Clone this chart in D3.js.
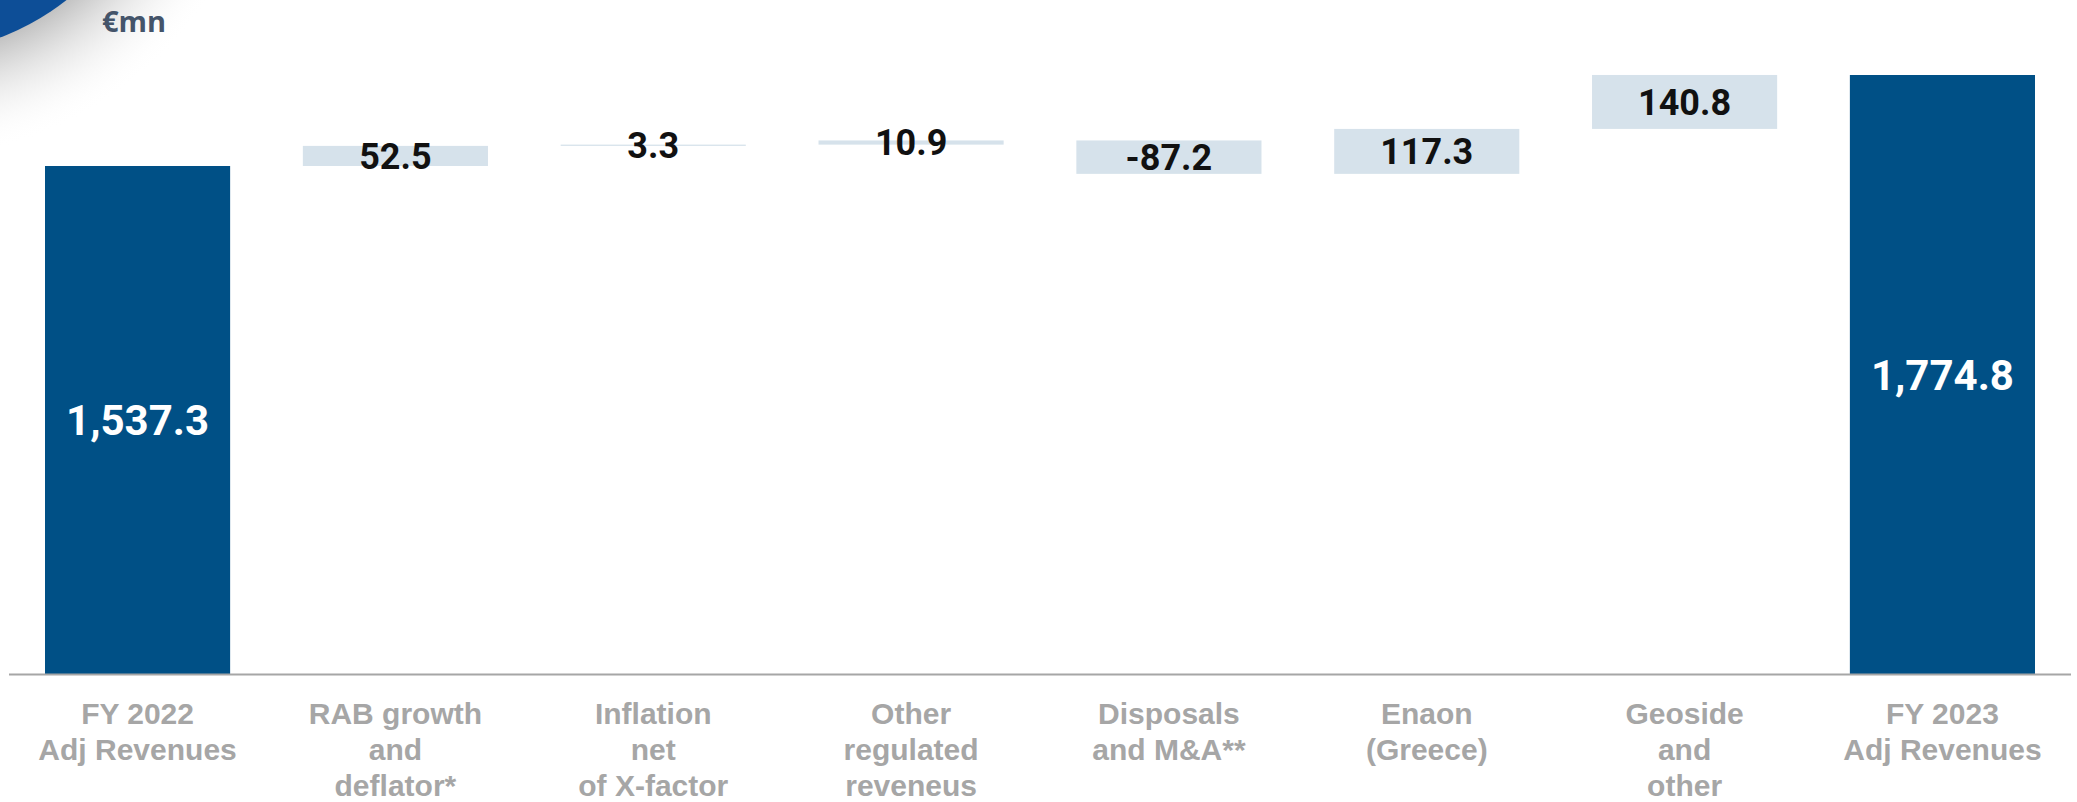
<!DOCTYPE html>
<html>
<head>
<meta charset="utf-8">
<script src="https://cdn.jsdelivr.net/npm/d3@7"></script>
<style>
  body { margin: 0; background: #ffffff; }
  svg { display: block; }
</style>
</head>
<body>
<div id="bridgeChart"></div>
<script>
// chart data
var categories = ["FY 2022", "RAB growth", "Inflation", "Other", "Disposals", "Enaon", "Geoside", "FY 2023"];
var categoryLines = [
    ["FY 2022", "Adj Revenues"],
    ["RAB growth", "and", "deflator*"],
    ["Inflation", "net", "of X-factor"],
    ["Other", "regulated", "reveneus"],
    ["Disposals", "and M&A**"],
    ["Enaon", "(Greece)"],
    ["Geoside", "and", "other"],
    ["FY 2023", "Adj Revenues"]
];
var values = [1537.3, 52.5, 3.3, 10.9, -87.2, 117.3, 140.8, 1774.8];
var barTypes = ["total", "delta", "delta", "delta", "delta", "delta", "delta", "total"];
var unitLabel = "€mn";
var axisStart = 211.5; // value axis is cut, it does not start at zero

function drawBridge(){

    var width = 2077, height = 802;
    var baseline = 674;

    var svg = d3.select("#bridgeChart")
      .append("svg")
      .attr("width", width)
      .attr("height", height);

    // corner decoration
    var defs = svg.append("defs");
    var grad = defs.append("radialGradient")
      .attr("id", "cornerShade")
      .attr("gradientUnits", "userSpaceOnUse")
      .attr("cx", -90).attr("cy", -200).attr("r", 360);
    grad.append("stop").attr("offset", "0.68").attr("stop-color", "#b8b8b8").attr("stop-opacity", 1);
    grad.append("stop").attr("offset", "0.80").attr("stop-color", "#dcdcdc").attr("stop-opacity", 0.8);
    grad.append("stop").attr("offset", "1").attr("stop-color", "#ffffff").attr("stop-opacity", 0);

    svg.append("circle")
      .attr("cx", -90).attr("cy", -200).attr("r", 360)
      .attr("fill", "url(#cornerShade)");
    svg.append("circle")
      .attr("cx", -90).attr("cy", -200).attr("r", 254)
      .attr("fill", "#0d4e97");

    // unit label
    svg.append("text")
      .attr("x", 102)
      .attr("y", 32)
      .attr("font-family", "'Open Sans', 'Noto Sans', sans-serif")
      .attr("font-weight", "bold")
      .attr("font-size", "29px")
      .attr("fill", "#44546a")
      .text(unitLabel);

    // running totals for the waterfall
    var bars = [];
    var running = 0;
    values.forEach(function(v, i){
        if(barTypes[i] == "total"){
            bars.push({name: categories[i], value: v, start: axisStart, end: v, type: "total", lines: categoryLines[i]});
            running = v;
        }else {
            bars.push({name: categories[i], value: v, start: running, end: running + v, type: "delta", lines: categoryLines[i]});
            running = running + v;
        }
    });

    // scales
    var x = d3.scaleBand()
      .domain(categories)
      .range([45, 2035])
      .paddingInner(0.282)
      .paddingOuter(0);

    var y = d3.scaleLinear()
      .domain([axisStart, 1774.8])
      .range([baseline, 75]);

    // bars
    svg.selectAll("rect.bar")
      .data(bars)
      .enter()
      .append("rect")
        .attr("class", "bar")
        .attr("x", function(d) { return x(d.name); })
        .attr("width", x.bandwidth())
        .attr("y", function(d) { return y(Math.max(d.start, d.end)); })
        .attr("height", function(d) { return Math.abs(y(d.start) - y(d.end)); })
        .attr("fill", function(d){
            if(d.type == "total"){
                return "#005086";
            }else {
                return "#d6e2eb";
            }
        });

    // x axis line
    svg.append("line")
      .attr("x1", 9).attr("x2", 2071)
      .attr("y1", baseline + 0.5).attr("y2", baseline + 0.5)
      .attr("stroke", "#a6a6a6")
      .attr("stroke-width", 2);

    // value labels
    svg.selectAll("text.value")
      .data(bars)
      .enter()
      .append("text")
        .attr("class", "value")
        .attr("x", function(d) { return x(d.name) + x.bandwidth() / 2; })
        .attr("y", function(d) { return (y(d.start) + y(d.end)) / 2; })
        .attr("dy", "0.36em")
        .attr("text-anchor", "middle")
        .attr("font-family", "Roboto, sans-serif")
        .attr("font-weight", "bold")
        .attr("font-size", function(d) { return d.type == "total" ? "42px" : "36px"; })
        .attr("fill", function(d) { return d.type == "total" ? "#ffffff" : "#111111"; })
        .text(function(d){
            if(d.type == "total"){
                return d3.format(",.1f")(d.value);
            }else {
                return d3.format(".1f")(d.value).replace("\u2212", "-");
            }
        });

    // category labels
    var catLabel = svg.selectAll("text.category")
      .data(bars)
      .enter()
      .append("text")
        .attr("class", "category")
        .attr("text-anchor", "middle")
        .attr("font-family", "'Liberation Sans', Arial, sans-serif")
        .attr("font-weight", "bold")
        .attr("font-size", "30px")
        .attr("fill", "#a6a6a6");

    catLabel.selectAll("tspan")
      .data(function(d) { return d.lines.map(function(l){ return {line: l, name: d.name}; }); })
      .enter()
      .append("tspan")
        .attr("x", function(d) { return x(d.name) + x.bandwidth() / 2; })
        .attr("y", function(d, i) { return 724 + i * 36; })
        .text(function(d) { return d.line; });
}

drawBridge();
</script>
</body>
</html>
